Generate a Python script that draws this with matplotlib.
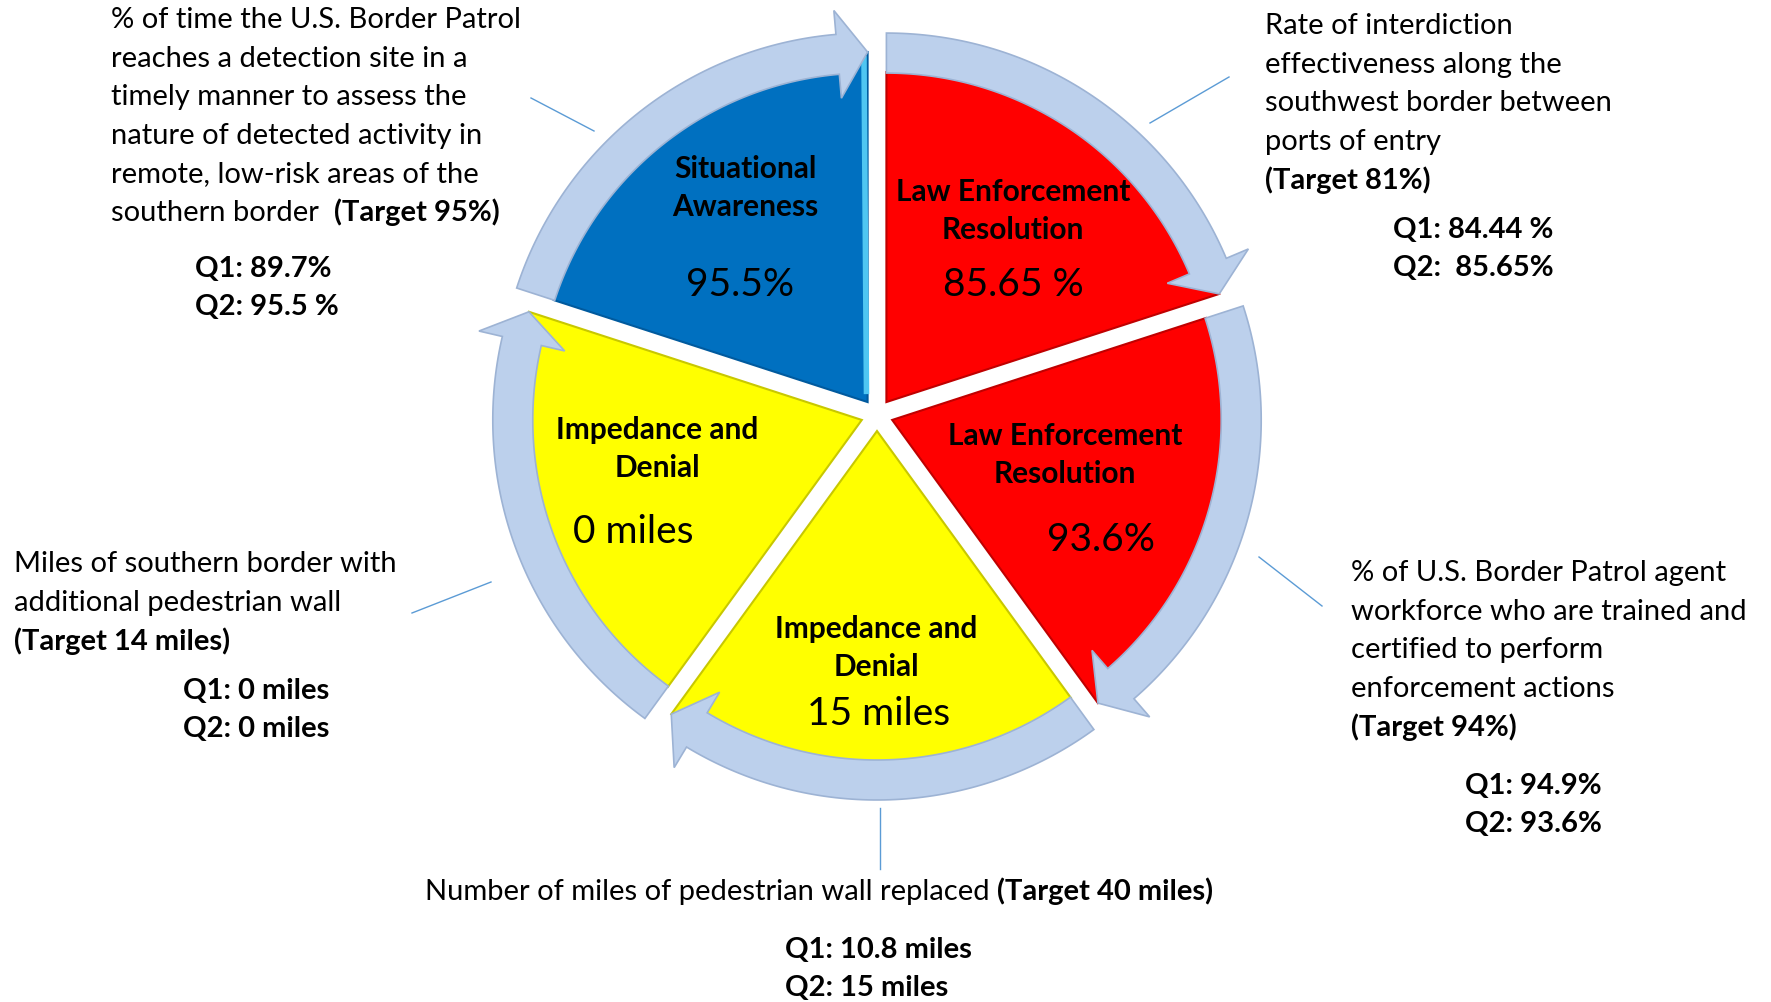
import numpy as np
import matplotlib.pyplot as plt
from matplotlib.patches import Polygon

plt.rcParams['font.family'] = ['Lato', 'DejaVu Sans']

# segments, clockwise from the top
shares = [1, 1, 1, 1, 1]
segments = ["Law Enforcement\nResolution", "Law Enforcement\nResolution",
            "Impedance and\nDenial", "Impedance and\nDenial",
            "Situational\nAwareness"]
current = ["85.65 %", "93.6%", "15 miles", "0 miles", "95.5%"]
colors = ["#FF0000", "#FF0000", "#FFFF00", "#FFFF00", "#0070C0"]
edges = ["#C00000", "#C00000", "#C8C800", "#C8C800", "#005A9E"]

measures = [
    ["Rate of interdiction", "effectiveness along the",
     "southwest border between", "ports of entry"],
    ["% of U.S. Border Patrol agent", "workforce who are trained and",
     "certified to perform", "enforcement actions"],
    ["Number of miles of pedestrian wall replaced "],
    ["Miles of southern border with", "additional pedestrian wall"],
    ["% of time the U.S. Border Patrol", "reaches a detection site in a",
     "timely manner to assess the", "nature of detected activity in",
     "remote, low-risk areas of the", "southern border  "],
]
targets = ["(Target 81%)", "(Target 94%)", "(Target 40 miles)",
           "(Target 14 miles)", "(Target 95%)"]
target_inline = [False, False, True, False, True]
q1 = ["Q1: 84.44 %", "Q1: 94.9%", "Q1: 10.8 miles", "Q1: 0 miles", "Q1: 89.7%"]
q2 = ["Q2:  85.65%", "Q2: 93.6%", "Q2: 15 miles", "Q2: 0 miles", "Q2: 95.5 %"]

# layout (pixel coordinates, y down)
W, H = 1771, 1003
cx, cy = 877, 416
explode = 16
r_start, r_end = 330, 350
band_in, band_out = 329, 369
head_half, head_len = 44, 30

name_pos = [(1013, 211), (1065, 455), (876, 648), (657, 449), (745, 188)]
value_pos = [(1013, 285), (1101, 540), (879, 714), (633, 532), (740, 285)]
block_pos = [(1265, 26), (1351, 573), (425, 892), (14, 564), (111, 20)]
q_pos = [(1393, 230), (1465, 786), (785, 950), (183, 691), (195, 269)]
leaders = [((1229, 78), (1150, 124)), ((1259, 558), (1322, 607)),
           ((880, 809), (880, 870)), ((412, 614), (491, 583)),
           ((531, 99), (594, 132))]
line_step = 38.6
q_step = 38.4
fs_text = 21
arrow_fill = "#BCD0EC"
arrow_edge = "#9DB3D4"
leader_color = "#5B9BD5"


def pt(x0, y0, r, a):
    a = np.radians(a)
    return x0 + r * np.cos(a), y0 - r * np.sin(a)


fig = plt.figure(figsize=(W / 100, H / 100), dpi=100)
ax = fig.add_axes([0, 0, 1, 1])
ax.set_xlim(0, W)
ax.set_ylim(H, 0)
ax.axis('off')

bounds = 90 - 360 * np.concatenate([[0], np.cumsum(shares)]) / sum(shares)

for i in range(len(shares)):
    a0, a1 = bounds[i], bounds[i + 1]
    mid = (a0 + a1) / 2
    ax0, ay0 = pt(cx, cy, explode, mid)

    # wedge: arc radius grows slightly along the clockwise direction
    t = np.linspace(0, 1, 100)
    ang = a0 + (a1 - a0) * t
    rr = r_start + (r_end - r_start) * t
    xs, ys = pt(ax0, ay0, rr, ang)
    verts = [(ax0, ay0)] + list(zip(xs, ys))
    ax.add_patch(Polygon(verts, closed=True, fc=colors[i], ec=edges[i],
                         lw=1.5, zorder=2))
    if colors[i] == "#0070C0":
        ex, ey = pt(ax0, ay0, r_end - 4, a1 + 0.6)
        sx, sy = pt(ax0, ay0, 8, a1 + 8)
        ax.plot([sx, ex], [sy, ey], color="#4FC6F2", lw=4, zorder=3,
                solid_capstyle='butt')

    # curved arrow following the wedge
    r_mid = (band_in + band_out) / 2
    a_base = a1 + np.degrees(head_len / r_mid)
    ang = np.linspace(a0, a_base, 80)
    ox, oy = pt(ax0, ay0, band_out, ang)
    ix, iy = pt(ax0, ay0, band_in, ang[::-1])
    hx1, hy1 = pt(ax0, ay0, r_mid + head_half, a_base)
    tx, ty = pt(ax0, ay0, r_end, a1)
    hx2, hy2 = pt(ax0, ay0, r_mid - head_half, a_base)
    verts = (list(zip(ox, oy)) + [(hx1, hy1), (tx, ty), (hx2, hy2)]
             + list(zip(ix, iy)))
    ax.add_patch(Polygon(verts, closed=True, fc=arrow_fill, ec=arrow_edge,
                         lw=1.2, zorder=4, joinstyle='miter'))

    # labels inside the wedge
    ax.text(*name_pos[i], segments[i], ha='center', va='center',
            fontsize=21.5, fontweight='bold', linespacing=1.45, zorder=5)
    ax.text(*value_pos[i], current[i], ha='center', va='center',
            fontsize=28, zorder=5)

    # description block
    bx, by = block_pos[i]
    lines = measures[i]
    for k, line in enumerate(lines):
        tt = ax.text(bx, by + k * line_step, line, ha='left', va='center',
                     fontsize=fs_text)
    if target_inline[i]:
        ax.annotate(targets[i], xy=(1, 0), xycoords=tt, ha='left',
                    va='bottom', fontsize=fs_text, fontweight='bold')
    else:
        ax.text(bx, by + len(lines) * line_step, targets[i], ha='left',
                va='center', fontsize=fs_text, fontweight='bold')

    qx, qy = q_pos[i]
    ax.text(qx, qy, q1[i], ha='left', va='center', fontsize=fs_text,
            fontweight='bold')
    ax.text(qx, qy + q_step, q2[i], ha='left', va='center', fontsize=fs_text,
            fontweight='bold')

    (lx0, ly0), (lx1, ly1) = leaders[i]
    ax.plot([lx0, lx1], [ly0, ly1], color=leader_color, lw=1)

fig.savefig('out.png', dpi=100, facecolor='white')
